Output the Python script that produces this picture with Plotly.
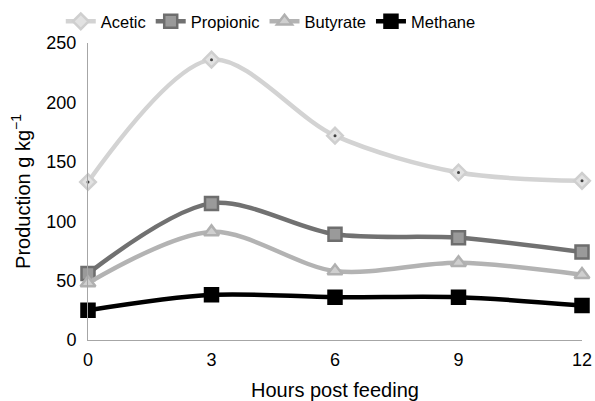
import plotly.graph_objects as go

hours = [0, 3, 6, 9, 12]
acetic = [133, 236, 172, 141, 134]
propionic = [56, 115, 89, 86, 74]
butyrate = [48, 91, 58, 65, 55]
methane = [25, 38, 36, 36, 29]

fig = go.Figure()

def add(name, y, lc, sym, mc, mlc, size):
    fig.add_trace(go.Scatter(
        x=hours, y=y, name=name, mode="lines+markers",
        line=dict(color=lc, width=4.5, shape="spline", smoothing=0.9),
        marker=dict(symbol=sym, size=size, color=mc, line=dict(color=mlc, width=2.5)),
        cliponaxis=False,
    ))

add("Acetic", acetic, "#d3d3d3", "diamond", "#e2e2e2", "#cfcfcf", 12)
fig.add_trace(go.Scatter(x=hours, y=acetic, mode="markers", showlegend=False,
                         marker=dict(size=3, color="#404040"), hoverinfo="skip",
                         cliponaxis=False))
add("Propionic", propionic, "#717171", "square", "#9a9a9a", "#6e6e6e", 13)
add("Butyrate", butyrate, "#b3b3b3", "triangle-up", "#cfcfcf", "#b0b0b0", 13)
add("Methane", methane, "#000000", "square", "#000000", "#000000", 13)

fig.update_layout(
    width=595, height=401,
    paper_bgcolor="white", plot_bgcolor="white",
    margin=dict(l=88, r=13, t=43, b=61, autoexpand=False),
    font=dict(family="Liberation Sans, Arial, sans-serif", size=18, color="#000"),
    legend=dict(orientation="h", x=0.37, xanchor="center", y=1.072, yanchor="middle",
                font=dict(size=16.5), itemwidth=30, tracegroupgap=0,
                bgcolor="rgba(0,0,0,0)"),
    xaxis=dict(range=[0, 12], tickvals=hours, ticktext=[str(h) for h in hours],
               showgrid=False, zeroline=False, showline=True, linecolor="#a6a6a6",
               linewidth=1, ticks="", automargin=False, ticklabelstandoff=3,
               title=dict(text="Hours post feeding", font=dict(size=20), standoff=15)),
    yaxis=dict(range=[0, 250], tickvals=[0, 50, 100, 150, 200, 250],
               showgrid=False, zeroline=False, showline=True, linecolor="#a6a6a6",
               linewidth=1, ticks="", automargin=False, ticklabelstandoff=7,
               title=dict(text="Production g kg<sup>−1</sup>", font=dict(size=20), standoff=10)),
)

fig.write_html("out.html", config={"displayModeBar": False},
               post_script="document.body.style.margin='0';document.body.style.overflow='hidden';")
